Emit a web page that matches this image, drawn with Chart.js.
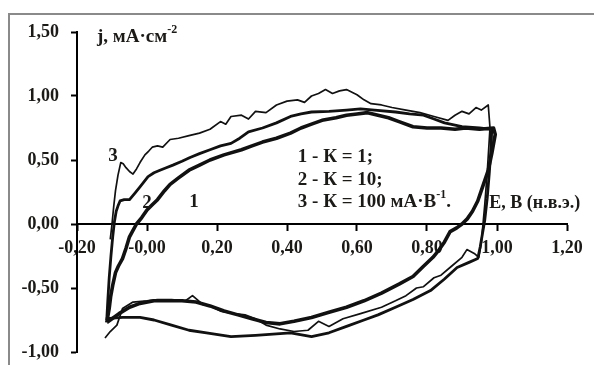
<!DOCTYPE html>
<html>
<head>
<meta charset="utf-8">
<script src="https://cdn.jsdelivr.net/npm/chart.js@4/dist/chart.umd.min.js"></script>
<style>
  body { margin: 0; background: #fff; }
  canvas { display: block; }
</style>
</head>
<body>
<canvas id="cvChart" width="594" height="365"></canvas>
<script>
// potential, V (n.h.e.) and current density, mA/cm2 for each gain K
const e1 = [-0.115, -0.108, -0.104, -0.098, -0.09, -0.082, -0.07, -0.06, -0.05, -0.04, -0.03, -0.015, 0.0, 0.015, 0.03, 0.05, 0.066, 0.09, 0.12, 0.15, 0.18, 0.22, 0.27, 0.30, 0.33, 0.37, 0.41, 0.44, 0.47, 0.50, 0.54, 0.57, 0.60, 0.63, 0.66, 0.69, 0.72, 0.76, 0.80, 0.84, 0.88, 0.91, 0.95, 0.99,
  0.995, 0.985, 0.975, 0.96, 0.945, 0.93, 0.915, 0.90, 0.885, 0.866, 0.85, 0.835, 0.817, 0.79, 0.76, 0.72, 0.67, 0.62, 0.57, 0.52, 0.47, 0.42, 0.38, 0.34, 0.30, 0.26, 0.22, 0.18, 0.14, 0.10, 0.06, 0.02, -0.02, -0.05, -0.08, -0.10, -0.115];
const j1 = [-0.77, -0.66, -0.57, -0.48, -0.38, -0.33, -0.27, -0.19, -0.10, -0.05, 0.0, 0.05, 0.11, 0.15, 0.19, 0.26, 0.31, 0.36, 0.42, 0.46, 0.50, 0.54, 0.58, 0.61, 0.64, 0.67, 0.71, 0.75, 0.78, 0.81, 0.83, 0.85, 0.86, 0.87, 0.85, 0.83, 0.80, 0.76, 0.75, 0.75, 0.74, 0.75, 0.74, 0.75,
  0.70, 0.55, 0.42, 0.30, 0.18, 0.10, 0.04, 0.0, -0.03, -0.06, -0.14, -0.20, -0.26, -0.33, -0.41, -0.47, -0.54, -0.60, -0.65, -0.69, -0.73, -0.76, -0.78, -0.77, -0.74, -0.71, -0.68, -0.64, -0.61, -0.60, -0.60, -0.60, -0.62, -0.65, -0.70, -0.74, -0.77];

const e2 = [-0.115, -0.112, -0.108, -0.103, -0.098, -0.093, -0.088, -0.083, -0.077, -0.065, -0.05, -0.035, -0.02, 0.003, 0.02, 0.037, 0.055, 0.074, 0.10, 0.123, 0.15, 0.18, 0.21, 0.24, 0.265, 0.29, 0.33, 0.37, 0.41, 0.44, 0.47, 0.52, 0.57, 0.61, 0.65, 0.71, 0.75, 0.79, 0.82, 0.85, 0.90, 0.95, 0.985,
  0.983, 0.978, 0.972, 0.965, 0.96, 0.952, 0.945, 0.92, 0.886, 0.85, 0.81, 0.76, 0.71, 0.66, 0.62, 0.57, 0.52, 0.47, 0.41, 0.36, 0.31, 0.24, 0.17, 0.12, 0.07, 0.02, -0.02, -0.07, -0.115];
const j2 = [-0.75, -0.60, -0.42, -0.25, -0.10, 0.02, 0.10, 0.14, 0.18, 0.19, 0.19, 0.24, 0.29, 0.37, 0.40, 0.42, 0.44, 0.46, 0.49, 0.52, 0.55, 0.58, 0.61, 0.63, 0.67, 0.72, 0.75, 0.79, 0.84, 0.86, 0.875, 0.88, 0.89, 0.90, 0.89, 0.875, 0.86, 0.85, 0.82, 0.79, 0.76, 0.75, 0.74,
  0.60, 0.40, 0.20, 0.03, -0.05, -0.18, -0.27, -0.30, -0.34, -0.43, -0.52, -0.59, -0.65, -0.71, -0.75, -0.80, -0.85, -0.88, -0.85, -0.86, -0.87, -0.88, -0.85, -0.83, -0.79, -0.75, -0.73, -0.73, -0.74];

const e3 = [-0.105, -0.10, -0.095, -0.09, -0.083, -0.075, -0.068, -0.06, -0.05, -0.04, -0.03, -0.02, -0.006, 0.005, 0.015, 0.03, 0.045, 0.066, 0.09, 0.12, 0.15, 0.18, 0.21, 0.225, 0.24, 0.27, 0.29, 0.31, 0.34, 0.37, 0.40, 0.43, 0.45, 0.47, 0.49, 0.51, 0.53, 0.55, 0.57, 0.60, 0.62, 0.64, 0.67, 0.70, 0.74, 0.78, 0.82, 0.86, 0.88, 0.90, 0.92, 0.94, 0.955, 0.975,
  0.98, 0.972, 0.965, 0.96, 0.955, 0.948, 0.935, 0.914, 0.90, 0.87, 0.84, 0.82, 0.79, 0.77, 0.74, 0.71, 0.67, 0.61, 0.56, 0.52, 0.49, 0.46, 0.42, 0.38, 0.34, 0.31, 0.28, 0.25, 0.21, 0.18, 0.16, 0.13, 0.11, 0.07, 0.03, 0.0, -0.04, -0.07, -0.086, -0.105, -0.12];
const j3 = [-0.12, 0.0, 0.14, 0.26, 0.38, 0.48, 0.47, 0.44, 0.41, 0.39, 0.43, 0.48, 0.54, 0.57, 0.60, 0.61, 0.60, 0.66, 0.67, 0.69, 0.71, 0.74, 0.80, 0.78, 0.84, 0.85, 0.82, 0.88, 0.87, 0.93, 0.96, 0.97, 0.95, 1.00, 1.02, 1.05, 1.02, 1.04, 1.05, 1.01, 0.97, 0.94, 0.93, 0.91, 0.89, 0.87, 0.84, 0.81, 0.85, 0.88, 0.86, 0.91, 0.89, 0.93,
  0.75, 0.40, 0.15, 0.0, -0.15, -0.26, -0.23, -0.20, -0.26, -0.33, -0.40, -0.42, -0.49, -0.50, -0.56, -0.60, -0.65, -0.70, -0.74, -0.80, -0.76, -0.83, -0.84, -0.82, -0.79, -0.74, -0.71, -0.70, -0.68, -0.64, -0.63, -0.56, -0.60, -0.59, -0.59, -0.60, -0.61, -0.66, -0.79, -0.84, -0.89];

const curveTags = ["1", "2", "3"];
const legendLines = ["1 - К = 1;", "2 - К = 10;", "3 - К = 100 мА·В"];
const yTitle = "j, мА·см";
const xTitle = "E, В (н.в.э.)";

const serif = '"Liberation Serif", "Times New Roman", serif';
const ink = "#1c1a17";

function toPoints(xs, ys) {
  return xs.map((x, i) => ({ x: x, y: ys[i] }));
}

function commaFmt(v) {
  return v.toFixed(2).replace(".", ",");
}

// text with an optional raised part, e.g. "см" + "-2"
function drawSup(ctx, x, y, main, sup, size, tail) {
  ctx.font = "bold " + size + "px " + serif;
  ctx.fillText(main, x, y);
  let w = ctx.measureText(main).width;
  ctx.font = "bold " + Math.round(size * 0.62) + "px " + serif;
  ctx.fillText(sup, x + w, y - size * 0.36);
  w += ctx.measureText(sup).width;
  if (tail) {
    ctx.font = "bold " + size + "px " + serif;
    ctx.fillText(tail, x + w, y);
  }
}

const decor = {
  id: "decor",
  beforeDraw(chart) {
    const ctx = chart.ctx;
    ctx.save();
    ctx.strokeStyle = "#8a8a8a";
    ctx.lineWidth = 2;
    ctx.strokeRect(9, 14, 700, 500);
    ctx.restore();
  },
  afterDraw(chart) {
    const ctx = chart.ctx;
    const sx = chart.scales.x, sy = chart.scales.y;
    ctx.save();
    ctx.fillStyle = ink;
    ctx.textBaseline = "middle";
    ctx.textAlign = "left";

    // axis titles
    drawSup(ctx, sx.getPixelForValue(-0.143), sy.getPixelForValue(1.46), yTitle, "-2", 19);
    ctx.font = "bold 18px " + serif;
    ctx.fillText(xTitle, sx.getPixelForValue(0.978), sy.getPixelForValue(0.165));

    // legend block
    const lx = sx.getPixelForValue(0.431);
    ctx.font = "bold 19px " + serif;
    ctx.fillText(legendLines[0], lx, sy.getPixelForValue(0.52));
    ctx.fillText(legendLines[1], lx, sy.getPixelForValue(0.345));
    drawSup(ctx, lx, sy.getPixelForValue(0.17), legendLines[2], "-1", 19, ".");

    // curve numbers
    ctx.textAlign = "center";
    ctx.font = "bold 19px " + serif;
    ctx.fillText(curveTags[0], sx.getPixelForValue(0.134), sy.getPixelForValue(0.17));
    ctx.fillText(curveTags[1], sx.getPixelForValue(0.0), sy.getPixelForValue(0.16));
    ctx.fillText(curveTags[2], sx.getPixelForValue(-0.097), sy.getPixelForValue(0.53));
    ctx.restore();
  }
};

const line = (pts, w) => ({
  data: pts,
  showLine: true,
  borderColor: "#111",
  borderWidth: w,
  pointRadius: 0,
  tension: 0,
  borderJoinStyle: "round"
});

// the layout padding alone sets the plot box
function noOverhang(s) {
  s.paddingTop = 0;
  s.paddingBottom = 0;
  s.paddingLeft = 0;
  s.paddingRight = 0;
}

new Chart(document.getElementById("cvChart"), {
  type: "scatter",
  data: {
    datasets: [
      line(toPoints(e1, j1), 3.6),
      line(toPoints(e2, j2), 2.8),
      line(toPoints(e3, j3), 1.7)
    ]
  },
  options: {
    responsive: false,
    animation: false,
    layout: { padding: { left: 0, right: 27, top: 32, bottom: 13 } },
    plugins: { legend: { display: false }, tooltip: { enabled: false } },
    scales: {
      x: {
        type: "linear",
        min: -0.2,
        max: 1.2,
        position: { y: 0 },
        afterFit: s => { s.height = 0; noOverhang(s); },
        ticks: {
          stepSize: 0.2,
          color: ink,
          padding: 8,
          font: { family: serif, size: 18, weight: "bold" },
          callback: v => commaFmt(v)
        },
        grid: { drawOnChartArea: false, tickLength: 6, tickWidth: 2, tickColor: "#000" },
        border: { color: "#000", width: 2 }
      },
      y: {
        min: -1,
        max: 1.5,
        afterFit: s => { s.width = 77; noOverhang(s); },
        ticks: {
          stepSize: 0.5,
          color: ink,
          padding: 12,
          font: { family: serif, size: 18, weight: "bold" },
          callback: v => commaFmt(v)
        },
        grid: { drawOnChartArea: false, tickLength: 6, tickWidth: 2, tickColor: "#000" },
        border: { color: "#000", width: 2 }
      }
    }
  },
  plugins: [decor]
});
</script>
</body>
</html>
